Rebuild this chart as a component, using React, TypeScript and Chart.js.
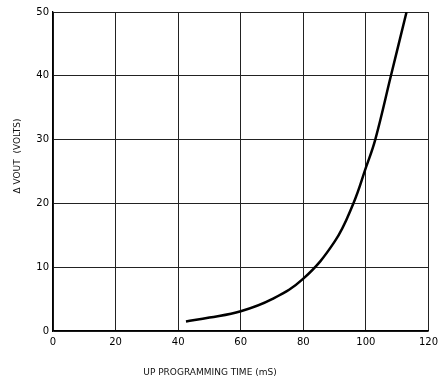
import React, { useEffect, useRef } from "react";
import { Chart, registerables } from "chart.js";

Chart.register(...registerables);

const timeMs = [42.5, 50, 60, 70, 80, 90, 96, 100, 103, 108, 113];
const deltaVout = [1.5, 2.1, 3.1, 5.0, 8.2, 14.0, 20, 25.6, 30, 40, 50];
const xTicks = [0, 20, 40, 60, 80, 100, 120];
const yTicks = [0, 10, 20, 30, 40, 50];
const xTitle = "UP PROGRAMMING TIME (mS)";
const yTitle = "\u0394 VOUT  (VOLTS)";

const FONT = "'DejaVu Sans', sans-serif";

const titlesPlugin = {
  id: "axisTitles",
  afterDraw(chart: any) {
    const ctx = chart.ctx;
    ctx.save();
    ctx.fillStyle = "#111";
    ctx.font = `9px ${FONT}`;
    ctx.textAlign = "center";
    ctx.textBaseline = "middle";
    ctx.fillText(xTitle, 210, 373);
    ctx.translate(18, 156);
    ctx.rotate(-Math.PI / 2);
    ctx.fillText(yTitle, 0, 0);
    ctx.restore();
  },
};

export default function App() {
  const ref = useRef<HTMLCanvasElement>(null);
  useEffect(() => {
    document.body.style.margin = "0";
    const chart = new Chart(ref.current as HTMLCanvasElement, {
      type: "scatter",
      data: {
        datasets: [
          {
            data: timeMs.map((x, i) => ({ x, y: deltaVout[i] })),
            showLine: true,
            borderColor: "#000",
            borderWidth: 2.5,
            pointRadius: 0,
            tension: 0.4,
          } as any,
        ],
      },
      options: {
        animation: false,
        responsive: false,
        maintainAspectRatio: false,
        layout: { padding: { left: 0, top: 12, right: 12, bottom: 0 } },
        plugins: { legend: { display: false }, tooltip: { enabled: false } },
        scales: {
          x: {
            type: "linear",
            min: 0,
            max: 120,
            afterBuildTicks: (s: any) => {
              s.ticks = xTicks.map((v) => ({ value: v }));
            },
            afterFit: (s: any) => {
              s.height = 52;
            },
            grid: { color: "#222", lineWidth: 1, drawTicks: false },
            border: { color: "#000", width: 1.3 },
            ticks: { color: "#000", font: { family: FONT, size: 10 }, padding: 5 },
          },
          y: {
            type: "linear",
            min: 0,
            max: 50,
            afterBuildTicks: (s: any) => {
              s.ticks = yTicks.map((v) => ({ value: v }));
            },
            afterFit: (s: any) => {
              s.width = 53;
            },
            grid: { color: "#222", lineWidth: 1, drawTicks: false },
            border: { color: "#000", width: 1.3 },
            ticks: { color: "#000", font: { family: FONT, size: 10 }, padding: 4 },
          },
        },
      },
      plugins: [titlesPlugin],
    });
    return () => chart.destroy();
  }, []);
  return (
    <div style={{ width: 443, height: 383, background: "#fff" }}>
      <canvas ref={ref} width={443} height={383} />
    </div>
  );
}
